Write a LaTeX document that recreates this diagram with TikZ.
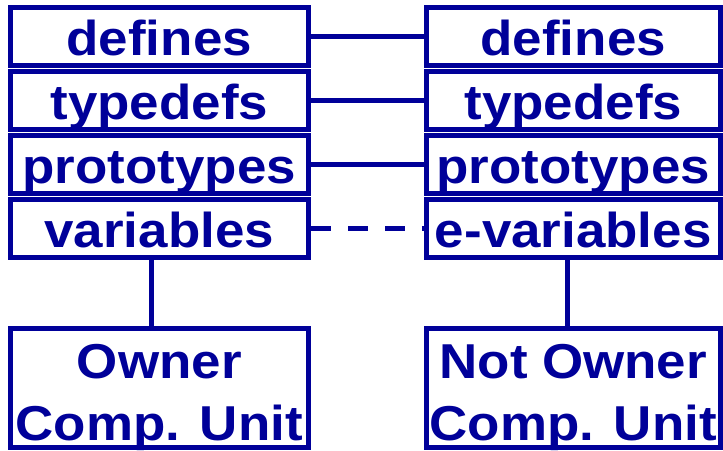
\documentclass[tikz,border=0pt]{standalone}
\usepackage{fontspec}
\setmainfont{Liberation Sans}[FakeStretch=1.08]
\definecolor{navy}{RGB}{0,0,153}

\begin{document}
\begin{tikzpicture}[x=1pt,y=-1pt,
	box/.style={draw=navy, line width=5pt, text=navy, inner sep=0pt,
		font=\fontsize{49}{62}\selectfont\bfseries},
	field/.style={box, minimum height=58pt, text height=37pt, text depth=0pt},
	unit/.style={box, minimum height=119pt, align=center, text height=104pt, text depth=0pt},
	leftcol/.style={minimum width=298.5pt},
	rightcol/.style={minimum width=294.5pt},
	conn/.style={draw=navy, line width=5pt}]
	\useasboundingbox (0,0) rectangle (723,450);

	% header parts of the owner
	\node[field,leftcol] (defL) at (159.25,36.5) {defines};
	\node[field,leftcol] (typL) at (159.25,100.5) {typedefs};
	\node[field,leftcol] (proL) at (159.25,164.5) {prototypes};
	\node[field,leftcol] (varL) at (159.25,228.5) {variables};
	\node[unit,leftcol] (ownL) at (159.25,388) {Owner\\Comp. Unit};

	% header parts seen by the others
	\node[field,rightcol] (defR) at (573.25,36.5) {defines};
	\node[field,rightcol] (typR) at (573.25,100.5) {typedefs};
	\node[field,rightcol] (proR) at (573.25,164.5) {prototypes};
	\node[field,rightcol] (varR) at (573.25,228.5) {e-variables};
	\node[unit,rightcol] (ownR) at (573.25,388) {Not Owner\\Comp. Unit};

	\draw[conn] (defL) -- (defR);
	\draw[conn] (typL) -- (typR);
	\draw[conn] (proL) -- (proR);
	\draw[conn, dash pattern=on 20pt off 17pt] (varL) -- (varR);

	\draw[conn] ([xshift=-7.75pt]varL.south) -- ([xshift=-7.75pt]ownL.north);
	\draw[conn] ([xshift=-5.75pt]varR.south) -- ([xshift=-5.75pt]ownR.north);
\end{tikzpicture}
\end{document}
